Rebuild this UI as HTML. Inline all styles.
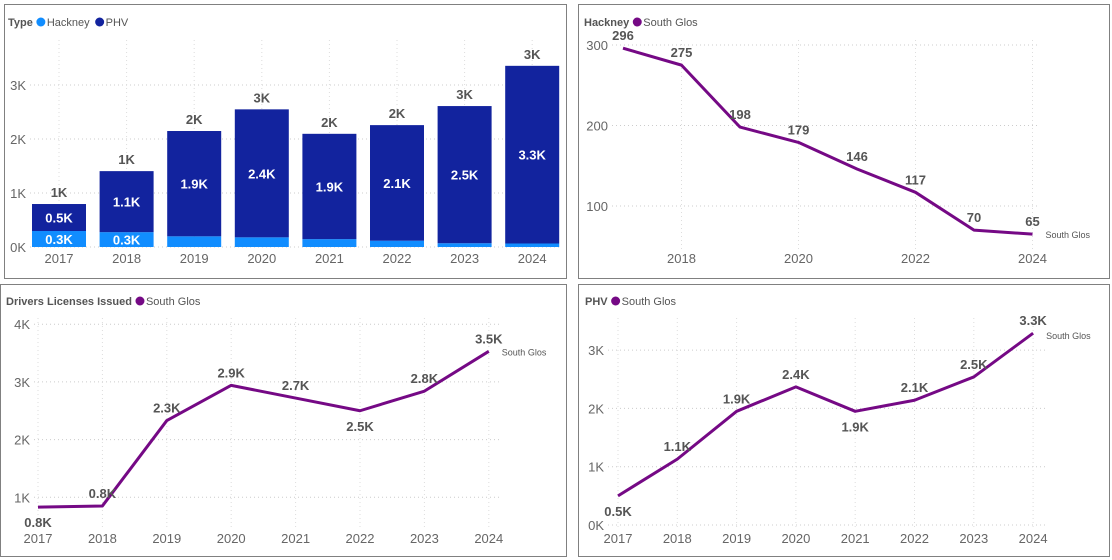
<!DOCTYPE html>
<html><head><meta charset="utf-8"><style>
body{margin:0;width:1112px;height:560px;background:#fff;overflow:hidden;font-family:"Liberation Sans",sans-serif}
svg{position:absolute;left:0;top:0}
</style></head><body>
<svg id="s" width="1112" height="560">
<rect x="4.5" y="4.5" width="562" height="274" fill="#fff" stroke="#808080"/>
<rect x="578.5" y="4.5" width="531" height="274" fill="#fff" stroke="#808080"/>
<rect x="0.5" y="284.5" width="566" height="272" fill="#fff" stroke="#808080"/>
<rect x="578.5" y="284.5" width="531" height="272" fill="#fff" stroke="#808080"/>
</svg>
<script>
const years=["2017","2018","2019","2020","2021","2022","2023","2024"];
const hackney=[296,275,198,179,146,117,70,65];
const phv=[500,1130,1950,2370,1950,2140,2540,3290];
const drivers=[830,850,2330,2940,2720,2500,2840,3530];
const kTicks=[0,1000,2000,3000];
const hackTicks=[100,200,300];
const drvTicks=[1000,2000,3000,4000];
const phvTicks=[0,1000,2000,3000];

const NS="http://www.w3.org/2000/svg";
const svg=document.getElementById('s');
function mk(tag,attrs,txt){const e=document.createElementNS(NS,tag);for(const k in attrs)e.setAttribute(k,attrs[k]);if(txt!==undefined)e.textContent=txt;svg.appendChild(e);return e;}
function fmtK(v){return (v/1000).toFixed(1)+'K';}
function legend(x,y,title,items){
  const t=mk('text',{x:x,y:y,'font-size':11,'font-weight':'bold',fill:'#555'},title);
  
  
  let cx=x+t.getComputedTextLength()+4;
  items.forEach(it=>{
    const c=mk('circle',{cx:cx+4,cy:y-4,r:4.5,fill:it[1]});
    
    
    const l=mk('text',{x:cx+10,y:y,'font-size':11,fill:'#555'},it[0]);
    
    
    cx+=l.getComputedTextLength()+16;
  });
}
function grid(x1,x2,y){const g=mk('line',{x1:x1,x2:x2,y1:y,y2:y,stroke:'#ccc','stroke-dasharray':'1,3'});
  
  }
function vgrid(x,y1,y2){const g=mk('line',{x1:x,x2:x,y1:y1,y2:y2,stroke:'#ddd','stroke-dasharray':'1,3'});
  
  }
function ytick(x,y,label){const t=mk('text',{x:x,y:y+5,'font-size':13,fill:'#666','text-anchor':'end'},label);
  
  }
function xtick(x,y,label){const t=mk('text',{x:x,y:y,'font-size':13,fill:'#666','text-anchor':'middle'},label);
  
  }
function dlabel(x,y,label,col){const t=mk('text',{x:x,y:y,'font-size':13,'font-weight':'bold',fill:col||'#555','text-anchor':'middle'},label);
  
  }

// Chart 1: stacked bars
(function(){
  legend(8,26,'Type',[['Hackney','#118dff'],['PHV','#12239e']]);
  const y0=247,ppk=54/1000,bx=i=>59+i*67.6,bw=54;
  const Y=v=>y0-v*ppk;
  kTicks.forEach(v=>{grid(30,560,Y(v));ytick(26,Y(v),(v/1000)+'K');});
  years.forEach((yr,i)=>{
    vgrid(bx(i),40,y0);
    const total=hackney[i]+phv[i];
    const h=mk('rect',{x:bx(i)-bw/2,y:Y(hackney[i]),width:bw,height:hackney[i]*ppk,fill:'#118dff'});
    
    
    const p=mk('rect',{x:bx(i)-bw/2,y:Y(total),width:bw,height:phv[i]*ppk,fill:'#12239e'});
    
    
    dlabel(bx(i),(Y(total)+Y(hackney[i]))/2+5,fmtK(phv[i]),'#fff');
    if(hackney[i]>=250)dlabel(bx(i),Y(hackney[i]/2)+5,fmtK(hackney[i]),'#fff');
    dlabel(bx(i),Y(total)-7,Math.round(total/1000)+'K','#555');
    xtick(bx(i),263,yr);
  });
})();

function lineChart(vals,ticks,y0,ppu,x0,dx,gx1,gx2,gy1,tickFmt,labFmt,below,xlabelsEvery,xlabY,endLabelDy){
  const Y=v=>y0-v*ppu,X=i=>x0+i*dx;
  ticks.forEach(v=>{grid(gx1,gx2,Y(v));ytick(gx1-4,Y(v),tickFmt(v));});
  years.forEach((yr,i)=>{if(xlabelsEvery===1||i%2===1){vgrid(X(i),gy1,xlabY-14);xtick(X(i),xlabY,yr);}});
  const pts=vals.map((v,i)=>X(i)+','+Y(v)).join(' ');
  const pl=mk('polyline',{points:pts,fill:'none',stroke:'#750985','stroke-width':3,'stroke-linejoin':'round'});
  
  
  vals.forEach((v,i)=>{dlabel(X(i),below.includes(i)?Y(v)+20:Y(v)-8,labFmt(v));});
  const n=vals.length-1;
  const e=mk('text',{x:X(n)+13,y:Y(vals[n])+endLabelDy,'font-size':9,fill:'#555'},'South Glos');
  
  
}
legend(584,26,'Hackney',[['South Glos','#750985']]);
lineChart(hackney,hackTicks,286.5,0.805,623,58.5,612,1040,40,v=>v,v=>v,[],2,263,4);
legend(6,305,'Drivers Licenses Issued',[['South Glos','#750985']]);
lineChart(drivers,drvTicks,555,0.0577,38,64.4,34,500,318,v=>(v/1000)+'K',fmtK,[0,5],1,543,4);
legend(585,305,'PHV',[['South Glos','#750985']]);
lineChart(phv,phvTicks,525,0.0583,618,59.3,608,1045,318,v=>(v/1000)+'K',fmtK,[0,4],1,543,6);
</script>
</body></html>
